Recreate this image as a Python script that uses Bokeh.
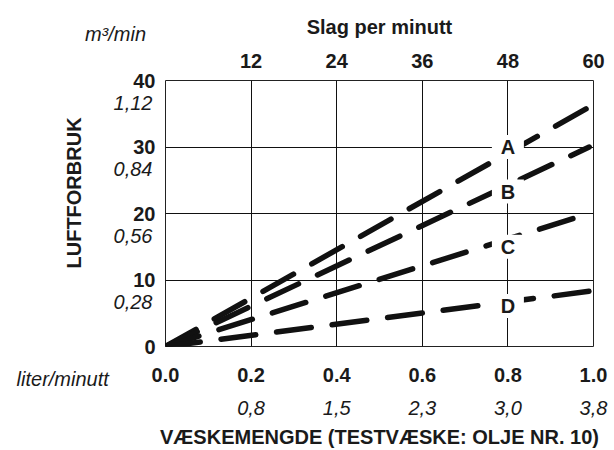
from bokeh.plotting import figure
from bokeh.models import (ColumnDataSource, LabelSet, LinearAxis,
                          FixedTicker, Range1d, Title)
from bokeh.core.properties import value
from bokeh.embed import file_html
from bokeh.resources import INLINE

# ---- data ----
x_ticks = [0.0, 0.2, 0.4, 0.6, 0.8, 1.0]
x_tick_labels = ["0.0", "0.2", "0.4", "0.6", "0.8", "1.0"]
x_sub_ticks = [0.2, 0.4, 0.6, 0.8, 1.0]
x_sub_labels = ["0,8", "1,5", "2,3", "3,0", "3,8"]
top_ticks = [0.2, 0.4, 0.6, 0.8, 1.0]
top_tick_labels = ["12", "24", "36", "48", "60"]
y_ticks = [0, 10, 20, 30, 40]
y_tick_labels = ["0", "10", "20", "30", "40"]
y_sub_ticks = [10, 20, 30, 40]
y_sub_labels = ["0,28", "0,56", "0,84", "1,12"]

series_names = ["A", "B", "C", "D"]
line_x = [0.0, 0.99]
series_start = [0.0, 0.0, 0.0, 0.0]
series_end = [36.0, 30.0, 20.0, 8.3]
label_x = [0.8, 0.8, 0.8, 0.8]
label_y = [30.0, 23.3, 15.0, 6.1]

x_title = "VÆSKEMENGDE (TESTVÆSKE: OLJE NR. 10)"
top_title = "Slag per minutt"
y_title = "LUFTFORBRUK"
x_unit = "liter/minutt"
y_unit = "m³/min"

FONT = "Liberation Sans"
TXT = "#1a1a1a"
BOLD = "20px"
ITAL = "20px"
NBSP = "\u00a0"

W, H = 614, 450
B_LEFT, B_RIGHT, B_TOP, B_BOTTOM = 165, 21, 80, 104
FRAME_W = W - B_LEFT - B_RIGHT
FRAME_H = H - B_TOP - B_BOTTOM
X0, X1 = 0.0, 1.0
Y0, Y1 = 0, 40
sub_shift = 22 * (Y1 - Y0) / FRAME_H          # italic row 22 px under bold one

p = figure(width=W, height=H, x_range=Range1d(X0, X1), y_range=Range1d(Y0, Y1),
           output_backend="svg", toolbar_location=None,
           min_border_left=B_LEFT, min_border_right=B_RIGHT,
           min_border_top=B_TOP, min_border_bottom=B_BOTTOM,
           x_axis_location=None, y_axis_location=None)
p.extra_y_ranges = {"sub": Range1d(Y0 + sub_shift, Y1 + sub_shift)}
p.background_fill_color = "white"
p.border_fill_color = "white"
p.outline_line_color = "#222222"
p.outline_line_width = 1


def style_axis(ax, standoff, style="bold", size=BOLD):
    ax.axis_line_color = None
    ax.major_tick_line_color = None
    ax.minor_tick_line_color = None
    ax.major_tick_in = 0
    ax.major_tick_out = 0
    ax.major_label_text_font = FONT
    ax.major_label_text_font_style = style
    ax.major_label_text_font_size = size
    ax.major_label_text_color = TXT
    ax.major_label_standoff = standoff
    ax.axis_label_text_font = FONT
    ax.axis_label_text_font_style = "bold"
    ax.axis_label_text_font_size = BOLD
    ax.axis_label_text_color = TXT


def left_caption(text, n_pad):
    # centred label whose visible part sits left of the tick
    return text + NBSP * n_pad


# ---- bottom: bold row (+ unit caption), italic row, title ----
xb = LinearAxis(ticker=FixedTicker(ticks=x_ticks),
                major_label_overrides=dict(zip(x_ticks, x_tick_labels)))
style_axis(xb, 21)
p.add_layout(xb, "below")

xb0 = LinearAxis(ticker=FixedTicker(ticks=[X0]),
                 major_label_overrides={X0: left_caption(x_unit, 37)})
style_axis(xb0, -17, "italic", ITAL)
p.add_layout(xb0, "below")

xb2 = LinearAxis(ticker=FixedTicker(ticks=x_sub_ticks),
                 major_label_overrides=dict(zip(x_sub_ticks, x_sub_labels)),
                 axis_label=x_title)
style_axis(xb2, 8, "italic", ITAL)
xb2.axis_label_standoff = 8
p.add_layout(xb2, "below")

# ---- top: strokes per minute + unit caption ----
xt = LinearAxis(ticker=FixedTicker(ticks=top_ticks),
                major_label_overrides=dict(zip(top_ticks, top_tick_labels)),
                axis_label=top_title)
style_axis(xt, 13)
xt.axis_label_standoff = 13
p.add_layout(xt, "above")

xt0 = LinearAxis(ticker=FixedTicker(ticks=[X0]),
                 major_label_overrides={X0: left_caption(y_unit, 18)})
style_axis(xt0, -32, "italic", ITAL)
p.add_layout(xt0, "above")

# ---- left: bold row and italic (m3/min) row ----
yl = LinearAxis(ticker=FixedTicker(ticks=y_ticks),
                major_label_overrides=dict(zip(y_ticks, y_tick_labels)))
style_axis(yl, 10)
p.add_layout(yl, "left")
yl2 = LinearAxis(ticker=FixedTicker(ticks=y_sub_ticks), y_range_name="sub",
                 major_label_overrides=dict(zip(y_sub_ticks, y_sub_labels)))
style_axis(yl2, -22, "italic", ITAL)
p.add_layout(yl2, "left")

p.add_layout(Title(text=y_title, align="left", offset=78, standoff=52,
                   text_font=FONT, text_font_style="bold", text_font_size=BOLD,
                   text_color=TXT), "left")

# ---- grid ----
p.xgrid.ticker = FixedTicker(ticks=x_ticks)
p.ygrid.ticker = FixedTicker(ticks=y_ticks)
p.xgrid.grid_line_color = "#111111"
p.ygrid.grid_line_color = "#111111"
p.xgrid.grid_line_width = 1
p.ygrid.grid_line_width = 1

# ---- dashed series lines ----
for s0, s1 in zip(series_start, series_end):
    p.line(x=line_x, y=[s0, s1], line_width=5.5, line_color="#111111",
           line_dash="35 21", line_cap="round")

# ---- series labels on white boxes ----
lab_src = ColumnDataSource(dict(x=label_x, y=label_y, t=series_names))
p.rect(x="x", y="y", width=32, height=24, width_units="screen",
       height_units="screen", source=lab_src, fill_color="white",
       line_color=None)
p.add_layout(LabelSet(x="x", y="y", text="t", source=lab_src,
                      text_font=value(FONT), text_font_style="bold",
                      text_font_size=BOLD, text_color=TXT,
                      text_align="center", text_baseline="middle"))

open("out.html", "w").write(file_html(p, INLINE))
